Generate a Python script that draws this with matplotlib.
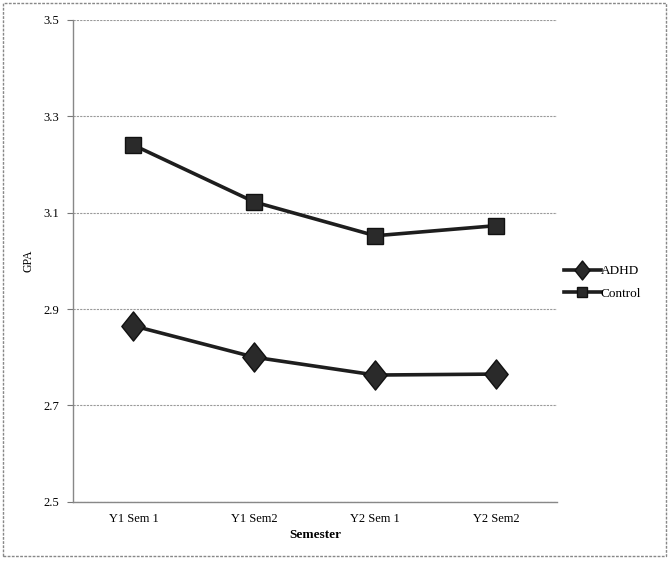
import matplotlib.pyplot as plt
from matplotlib.patches import Rectangle
from matplotlib.path import Path

semesters = ["Y1 Sem 1", "Y1 Sem2", "Y2 Sem 1", "Y2 Sem2"]
adhd = [2.865, 2.80, 2.763, 2.765]
control = [3.24, 3.122, 3.052, 3.073]
yticks = [2.5, 2.7, 2.9, 3.1, 3.3, 3.5]

plt.rcParams["font.family"] = ["Liberation Serif", "DejaVu Serif"]

# slightly tall diamond like the original
diamond = Path([(0, 1), (0.8, 0), (0, -1), (-0.8, 0), (0, 1)],
               [Path.MOVETO, Path.LINETO, Path.LINETO, Path.LINETO, Path.CLOSEPOLY])

fig = plt.figure(figsize=(6.7, 5.67), dpi=100)
ax = fig.add_axes([0.109, 0.115, 0.722, 0.85])

x = range(len(semesters))
ax.plot(x, adhd, color="#1e1e1e", lw=2.6, marker=diamond, markersize=21,
        markerfacecolor="#2a2a2a", markeredgecolor="#111111", label="ADHD")
ax.plot(x, control, color="#1e1e1e", lw=2.6, marker="s", markersize=11,
        markerfacecolor="#2a2a2a", markeredgecolor="#111111", label="Control")

ax.set_xlim(-0.5, len(semesters) - 0.5)
ax.set_ylim(2.5, 3.5)
ax.set_yticks(yticks)
ax.set_yticklabels([f"{t:.1f}" for t in yticks], fontsize=9)
ax.set_xticks(list(x))
ax.set_xticklabels(semesters, fontsize=9)
ax.tick_params(axis="x", length=0, pad=8)
ax.tick_params(axis="y", length=4, color="#777777", pad=6)

ax.grid(axis="y", color="#9a9a9a", lw=0.8, ls=(0, (2, 1)))
ax.set_axisbelow(True)
for side in ["top", "right"]:
    ax.spines[side].set_visible(False)
for side in ["left", "bottom"]:
    ax.spines[side].set_color("#888888")
    ax.spines[side].set_linestyle((0, (2, 1)))
    ax.spines[side].set_linewidth(1.0)

ax.set_xlabel("Semester", fontsize=9.5, fontweight="bold", labelpad=3)
ax.set_ylabel("GPA", fontsize=8.5, labelpad=6)

leg = ax.legend(loc="center left", bbox_to_anchor=(0.99, 0.455), frameon=False,
                fontsize=9.5, handlelength=2.8, markerscale=0.65, labelspacing=0.8,
                handletextpad=0.0)

fig.patches.append(Rectangle((0.004, 0.02), 0.99, 0.975, transform=fig.transFigure,
                             fill=False, edgecolor="#888888", lw=1.0,
                             ls=(0, (2, 1))))

fig.savefig("out.png", dpi=100)
